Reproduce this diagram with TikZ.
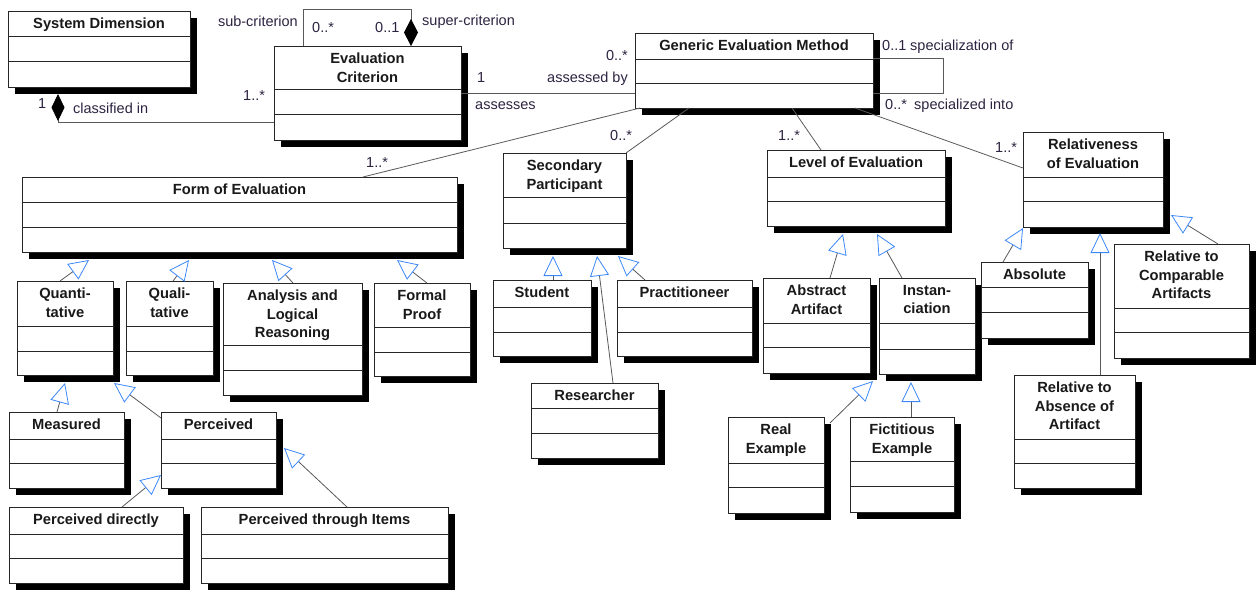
\documentclass[tikz,border=0pt]{standalone}
\usepackage{fontspec}
\setmainfont{Liberation Sans}
\usetikzlibrary{arrows.meta,shadows}

\definecolor{umlblue}{RGB}{60,135,250}
\definecolor{labcol}{RGB}{45,35,65}

\tikzset{
  umlbox/.style={draw=black!85, line width=1pt, fill=white, outer sep=0pt, inner sep=0pt,
    general shadow={fill=black, shadow xshift=7pt, shadow yshift=-7pt}},
  comp/.style={draw=black!85, line width=0.9pt},
  title/.style={font=\fontsize{14.7}{18.5}\selectfont\bfseries, align=center, text=black!90,
    inner xsep=2pt, inner ysep=7pt},
  lab/.style={font=\fontsize{14.5}{17}\selectfont, text=labcol, inner sep=0pt},
  assoc/.style={draw=black!65, line width=0.8pt},
  gen/.style={assoc, -{Triangle[open, length=20pt, width=19pt, color=umlblue]}},
  agg start/.style={assoc, {Diamond[length=27pt, width=13pt, color=black, fill=black]}-},
  agg end/.style={assoc, -{Diamond[length=27pt, width=14pt, color=black, fill=black]}},
}

% name, left, top, right, bottom, 1st line, 2nd line, title
\newcommand{\UMLclass}[8]{%
  \node[umlbox, minimum width={#4-#2}, minimum height={#5-#3}] (#1) at ({(#2+#4)/2},{(#3+#5)/2}) {};
  \draw[comp] (#2,#6) -- (#4,#6) (#2,#7) -- (#4,#7);
  \node[title, anchor=north] (#1t) at (#1.north) {#8};
}

\begin{document}
\begin{tikzpicture}[x=1pt, y=-1pt]
  \useasboundingbox (0,0) rectangle (1259,590);

  %% top row
  \UMLclass{sysdim}{8}{11}{190}{87}{36}{61}{System Dimension}
  \UMLclass{ec}{274}{46}{461}{140}{89}{114}{Evaluation\\Criterion}
  \UMLclass{gem}{635}{33}{873}{108}{59}{83}{Generic Evaluation Method}

  %% dimensions
  \UMLclass{foe}{22}{177}{457}{252}{202}{227}{Form of Evaluation}
  \UMLclass{sp}{503}{153}{626}{248}{197}{223}{Secondary\\Participant}
  \UMLclass{loe}{767}{150}{945}{226}{177}{201}{Level of Evaluation}
  \UMLclass{roe}{1023}{132}{1163}{227}{177}{201}{Relativeness\\of Evaluation}

  %% forms
  \UMLclass{quant}{17}{281}{113}{375}{326}{351}{Quanti-\\tative}
  \UMLclass{qual}{126}{281}{213}{375}{326}{351}{Quali-\\tative}
  \UMLclass{analysis}{223}{283}{362}{395}{345}{370}{Analysis and\\Logical\\Reasoning}
  \UMLclass{formal}{374}{283}{470}{376}{327}{352}{Formal\\Proof}
  \UMLclass{measured}{9}{412}{124}{488}{439}{463}{Measured}
  \UMLclass{perceived}{161}{412}{276}{488}{439}{463}{Perceived}
  \UMLclass{percdir}{9}{507}{183}{583}{534}{558}{Perceived directly}
  \UMLclass{percitems}{201}{507}{448}{583}{534}{558}{Perceived through Items}

  %% participants
  \UMLclass{student}{493}{280}{591}{356}{307}{332}{Student}
  \UMLclass{researcher}{531}{383}{658}{458}{408}{433}{Researcher}
  \UMLclass{pract}{617}{280}{752}{356}{307}{332}{Practitioneer}

  %% levels
  \UMLclass{abstract}{763}{278}{870}{373}{323}{347}{Abstract\\Artifact}
  \UMLclass{inst}{879}{278}{975}{374}{323}{349}{Instan-\\ciation}
  \UMLclass{real}{728}{417}{824}{513}{463}{487}{Real\\Example}
  \UMLclass{fict}{850}{417}{954}{512}{461}{486}{Fictitious\\Example}

  %% relativeness
  \UMLclass{absolute}{981}{262}{1088}{338}{287}{312}{Absolute}
  \UMLclass{relcomp}{1114}{244}{1249}{358}{308}{332}{Relative to\\Comparable\\Artifacts}
  \UMLclass{relabs}{1014}{375}{1135}{488}{439}{463}{Relative to\\Absence of\\Artifact}

  %% associations
  \draw[agg start] ([xshift=50pt,yshift=-7pt]sysdim.south west) |- ([yshift=-29pt]ec.west); % classified in
  \draw[agg end] ([xshift=29pt]ec.north west) -- ++(0,-37) -| ([xshift=137pt]ec.north west); % sub/super
  \draw[assoc] (ec.east) -- (ec.east -| gem.west); % assesses
  \draw[assoc] ([yshift=12.5pt]gem.east) -- ++(70,0) |- ([yshift=-22.5pt]gem.east); % specialization
  \draw[assoc] ([xshift=5pt]gem.south west) -- ([xshift=341pt]foe.north west);
  \draw[assoc] ([xshift=54pt]gem.south west) -- (sp.north east);
  \draw[assoc] ([xshift=157pt]gem.south west) -- ([xshift=54pt]loe.north west);
  \draw[assoc] ([xshift=220pt]gem.south west) -- ([yshift=11.5pt]roe.west);

  %% generalizations
  \draw[gen] ([xshift=43pt]quant.north west) -- ([xshift=67pt,yshift=-8pt]foe.south west);
  \draw[gen] ([xshift=47pt]qual.north west) -- ([xshift=167pt,yshift=-8pt]foe.south west);
  \draw[gen] ([xshift=70pt]analysis.north west) -- ([xshift=250pt,yshift=-8pt]foe.south west);
  \draw[gen] ([xshift=53pt]formal.north west) -- ([xshift=375pt,yshift=-8pt]foe.south west);
  \draw[gen] ([xshift=48pt]measured.north west) -- ([xshift=48pt,yshift=-8pt]quant.south west);
  \draw[gen] ([yshift=-6pt]perceived.north west) -- ([xshift=97pt,yshift=-8pt]quant.south west);
  \draw[gen] ([xshift=113pt]percdir.north west) -- ([yshift=13pt]perceived.south west);
  \draw[gen] ([xshift=146pt]percitems.north west) -- ([xshift=123pt,yshift=40pt]perceived.south west);

  \draw[gen] ([xshift=60pt]student.north west) -- ([xshift=50pt,yshift=-8pt]sp.south west);
  \draw[gen] ([xshift=82pt]researcher.north west) -- ([xshift=94pt,yshift=-8pt]sp.south west);
  \draw[gen] ([xshift=28pt]pract.north west) -- ([xshift=115pt,yshift=-8pt]sp.south west);

  \draw[gen] ([xshift=67pt]abstract.north west) -- ([xshift=76pt,yshift=-8pt]loe.south west);
  \draw[gen] ([xshift=23pt]inst.north west) -- ([xshift=110pt,yshift=-8pt]loe.south west);
  \draw[gen] ([xshift=6pt,yshift=-6pt]real.north east) -- ([xshift=-6pt,yshift=-7pt]inst.south west);
  \draw[gen] ([xshift=61pt]fict.north west) -- ([xshift=32pt,yshift=-8pt]inst.south west);

  \draw[gen] ([xshift=22pt]absolute.north west) -- ([yshift=-1pt]roe.south west);
  \draw[gen] ([xshift=104pt]relcomp.north west) -- ([xshift=148pt,yshift=12pt]roe.south west);
  \draw[gen] ([xshift=86pt]relabs.north west) -- ([xshift=77pt,yshift=-6pt]roe.south west);

  %% roles and multiplicities
  \node[lab, anchor=base west] (m-sd) at (38,108) {1};
  \node[lab, anchor=base west] (r-cls) at (73,113) {classified in};
  \node[lab, anchor=base west] (m-ec) at (243,100) {1..*};
  \node[lab, anchor=base east] (r-sub) at (298,26) {sub-criterion};
  \node[lab, anchor=base west] (m-sub) at (312,32) {0..*};
  \node[lab, anchor=base west] (m-sup) at (375,32) {0..1};
  \node[lab, anchor=base west] (r-sup) at (422,25) {super-criterion};
  \node[lab, anchor=base west] (m-as1) at (477,82) {1};
  \node[lab, anchor=base east] (m-as2) at (628,60) {0..*};
  \node[lab, anchor=base east] (r-asby) at (628,82) {assessed by};
  \node[lab, anchor=base west] (r-as) at (475,109) {assesses};
  \node[lab, anchor=base west] (m-spof) at (882,50) {0..1};
  \node[lab, anchor=base west] (r-spof) at (910,50) {specialization of};
  \node[lab, anchor=base west] (m-spin) at (885,109) {0..*};
  \node[lab, anchor=base west] (r-spin) at (914,109) {specialized into};
  \node[lab, anchor=base west] (m-foe) at (366,167) {1..*};
  \node[lab, anchor=base west] (m-sp) at (610,140) {0..*};
  \node[lab, anchor=base west] (m-loe) at (778,140) {1..*};
  \node[lab, anchor=base west] (m-roe) at (995,152) {1..*};
\end{tikzpicture}
\end{document}
